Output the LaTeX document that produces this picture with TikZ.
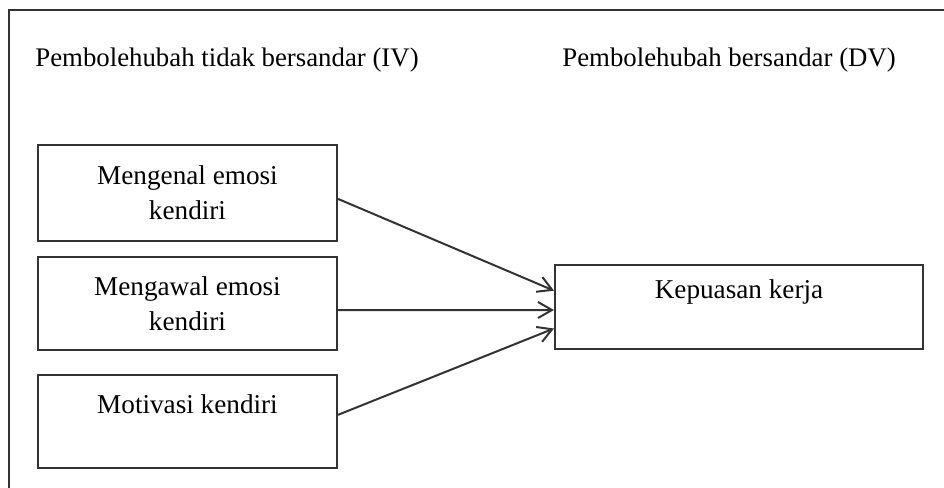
\documentclass[tikz,border=0pt]{standalone}
\usepackage{fontspec}
\setmainfont{Liberation Serif}
\usetikzlibrary{arrows.meta}
\usetikzlibrary{calc}
\definecolor{garis}{HTML}{333333}
\tikzset{kotak/.style = {draw=garis, line width=1pt, align=center,
                         inner sep=0, font=\fontsize{13.6}{17.5}\selectfont}}
\tikzset{tajuk/.style = {anchor=base west, inner sep=0,
                         font=\fontsize{13.4}{17.5}\selectfont}}
\tikzset{panah/.style = {draw=garis, line width=1pt,
                         -{Straight Barb[length=7pt,width=8pt,line width=1pt]}}}

\begin{document}
\begin{tikzpicture}[x=0.5pt,y=-0.5pt]
      \useasboundingbox (0,0) rectangle (944,488);
      \draw[garis, line width=1pt] (8.5,488) -- (8.5,10) -- (944,10);

      \node[tajuk] (iv) at (35,66) {Pembolehubah tidak bersandar (IV)};
      \node[tajuk] (dv) at (562,66) {Pembolehubah bersandar (DV)};

      \node[kotak, minimum width=149.5pt, minimum height=48pt] (kenal) at (187.5,193)
        {Mengenal emosi\\kendiri};
      \node[kotak, minimum width=149.5pt, minimum height=46.5pt] (kawal) at (187.5,303.5)
        {Mengawal emosi\\kendiri};
      \node[kotak, minimum width=149.5pt, minimum height=46.5pt] (motiv) at (187.5,421.5)
        {Motivasi kendiri\\\phantom{k}};
      \node[kotak, minimum width=184pt, minimum height=42pt] (kepuasan) at (739,307)
        {Kepuasan kerja\\\phantom{k}};

      \draw[panah] ($(kenal.north east)!0.56!(kenal.south east)$)
        -- ($(kepuasan.north west)!0.31!(kepuasan.south west)$);
      \draw[panah] ($(kawal.north east)!0.57!(kawal.south east)$)
        -- ($(kepuasan.north west)!0.535!(kepuasan.south west)$);
      \draw[panah] ($(motiv.north east)!0.43!(motiv.south east)$)
        -- ($(kepuasan.north west)!0.75!(kepuasan.south west)$);
    \end{tikzpicture}
\end{document}
